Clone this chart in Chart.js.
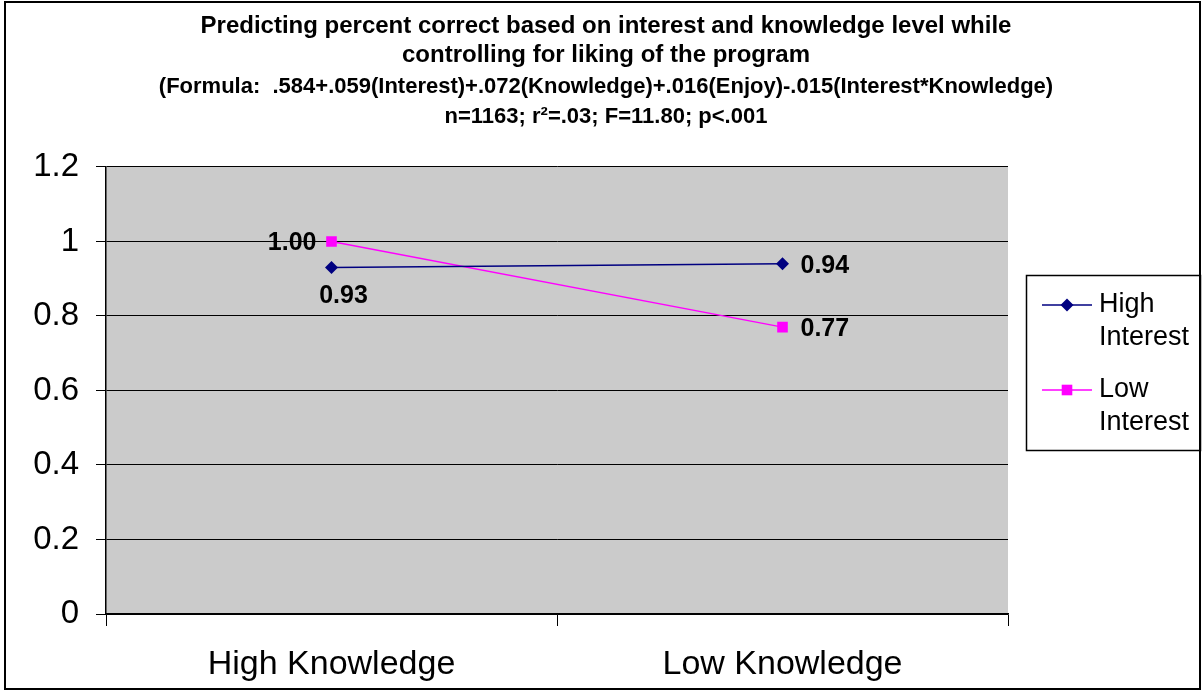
<!DOCTYPE html>
<html>
<head>
<meta charset="utf-8">
<script src="https://cdn.jsdelivr.net/npm/chart.js@4"></script>
<style>
  body { margin: 0; background: #fff; }
  canvas { display: block; }
</style>
</head>
<body>
<canvas id="chart" width="1204" height="694"></canvas>
<script>
var categories = ['High Knowledge', 'Low Knowledge'];
var highInterest = [0.93, 0.94];
var lowInterest = [1.00, 0.77];
var yTicks = [0, 0.2, 0.4, 0.6, 0.8, 1, 1.2];
var yTickLabels = ['0', '0.2', '0.4', '0.6', '0.8', '1', '1.2'];

var FONT = '"Liberation Sans", Arial, sans-serif';

// white page, grey plot area, outer frame
var backdrop = {
    id: 'backdrop',
    beforeDraw: function (chart) {
        var ctx = chart.ctx, a = chart.chartArea;
        ctx.save();
        ctx.fillStyle = '#ffffff';
        ctx.fillRect(0, 0, chart.width, chart.height);
        ctx.fillStyle = '#cbcbcb';
        ctx.fillRect(a.left, a.top, a.right - a.left, a.bottom - a.top);
        ctx.restore();
    },
    afterDraw: function (chart) {
        var ctx = chart.ctx;
        ctx.save();
        ctx.strokeStyle = '#000';
        ctx.lineWidth = 2;
        ctx.strokeRect(5, 2, 1195, 687);
        ctx.restore();
    }
};

// value labels next to the points
var pointLabels = {
    id: 'pointLabels',
    afterDatasetsDraw: function (chart, args, opts) {
        var ctx = chart.ctx;
        ctx.save();
        ctx.font = 'bold 25px ' + FONT;
        ctx.fillStyle = '#000';
        chart.data.datasets.forEach(function (ds, i) {
            var meta = chart.getDatasetMeta(i);
            meta.data.forEach(function (pt, j) {
                var txt = ds.data[j].toFixed(2);
                var where = opts.place[i][j];
                if (where === 'right') {
                    ctx.textAlign = 'left'; ctx.textBaseline = 'middle';
                    ctx.fillText(txt, pt.x + 18, pt.y + 2);
                } else if (where === 'left') {
                    ctx.textAlign = 'right'; ctx.textBaseline = 'middle';
                    ctx.fillText(txt, pt.x - 15, pt.y + 2);
                } else {
                    ctx.textAlign = 'center'; ctx.textBaseline = 'middle';
                    ctx.fillText(txt, pt.x + 12, pt.y + 29);
                }
            });
        });
        ctx.restore();
    }
};

// boxed legend with two-line labels
var boxLegend = {
    id: 'boxLegend',
    afterDraw: function (chart) {
        var ctx = chart.ctx;
        ctx.save();
        ctx.strokeStyle = '#000';
        ctx.lineWidth = 1.5;
        ctx.strokeRect(1026.5, 275.5, 174, 175);
        ctx.font = '27px ' + FONT;
        ctx.fillStyle = '#000';
        ctx.textAlign = 'left';
        ctx.textBaseline = 'middle';
        var rows = [305, 390];
        chart.data.datasets.forEach(function (ds, i) {
            var y = rows[i];
            ctx.strokeStyle = ds.borderColor;
            ctx.lineWidth = ds.borderWidth;
            ctx.beginPath();
            ctx.moveTo(1042, y);
            ctx.lineTo(1092, y);
            ctx.stroke();
            ctx.fillStyle = ds.backgroundColor;
            Chart.helpers.drawPoint(ctx, { pointStyle: ds.pointStyle, radius: ds.pointRadius, borderWidth: 0 }, 1067, y);
            ctx.fillStyle = '#000';
            var parts = ds.label.split(' ');
            ctx.fillText(parts[0], 1099, y);
            ctx.fillText(parts[1], 1099, y + 33);
        });
        ctx.restore();
    }
};

new Chart(document.getElementById('chart'), {
    type: 'line',
    data: {
        labels: categories,
        datasets: [{
            label: 'High Interest',
            data: highInterest,
            borderColor: '#000080',
            backgroundColor: '#000080',
            borderWidth: 1.5,
            pointStyle: 'rectRot',
            pointRadius: 6.5,
            pointBorderWidth: 0,
            tension: 0
        }, {
            label: 'Low Interest',
            data: lowInterest,
            borderColor: '#ff00ff',
            backgroundColor: '#ff00ff',
            borderWidth: 1.5,
            pointStyle: 'rect',
            pointRadius: 7.5,
            pointBorderWidth: 0,
            tension: 0
        }]
    },
    options: {
        responsive: false,
        animation: false,
        layout: { padding: { left: 8, top: 0, right: 0, bottom: 0 } },
        plugins: {
            legend: { display: false },
            tooltip: { enabled: false },
            title: {
                display: true,
                text: ['Predicting percent correct based on interest and knowledge level while',
                       'controlling for liking of the program'],
                color: '#000',
                font: { family: FONT, size: 24, weight: 'bold', lineHeight: 1.21 },
                padding: { top: 11.5, bottom: 0 }
            },
            subtitle: {
                display: true,
                text: ['(Formula:  .584+.059(Interest)+.072(Knowledge)+.016(Enjoy)-.015(Interest*Knowledge)',
                       'n=1163; r\u00B2=.03; F=11.80; p<.001'],
                color: '#000',
                font: { family: FONT, size: 22, weight: 'bold', lineHeight: 1.36 },
                padding: { top: 2.5, bottom: 35 }
            },
            pointLabels: { place: [['below', 'right'], ['left', 'right']] }
        },
        scales: {
            x: {
                offset: true,
                grid: { offset: true, drawOnChartArea: false, drawTicks: true, tickLength: 12, color: '#000', lineWidth: 1 },
                border: { color: '#000', width: 1.5 },
                ticks: { color: '#000', font: { family: FONT, size: 34 }, padding: 18, maxRotation: 0 },
                afterFit: function (s) { s.height = 80; }
            },
            y: {
                min: 0,
                max: 1.2,
                afterBuildTicks: function (s) { s.ticks = yTicks.map(function (v) { return { value: v }; }); },
                grid: { color: '#000', lineWidth: 1, drawTicks: true, tickLength: 10 },
                border: { color: '#000', width: 1.5 },
                ticks: {
                    color: '#000',
                    font: { family: FONT, size: 33 },
                    padding: 17,
                    callback: function (v, i) { return yTickLabels[i]; }
                },
                afterFit: function (s) { s.width = 98; }
            },
            gap: {
                type: 'linear',
                position: 'right',
                display: true,
                grid: { display: false, drawTicks: false },
                border: { display: false },
                ticks: { display: false },
                afterFit: function (s) { s.width = 196; }
            }
        }
    },
    plugins: [backdrop, pointLabels, boxLegend]
});
</script>
</body>
</html>
